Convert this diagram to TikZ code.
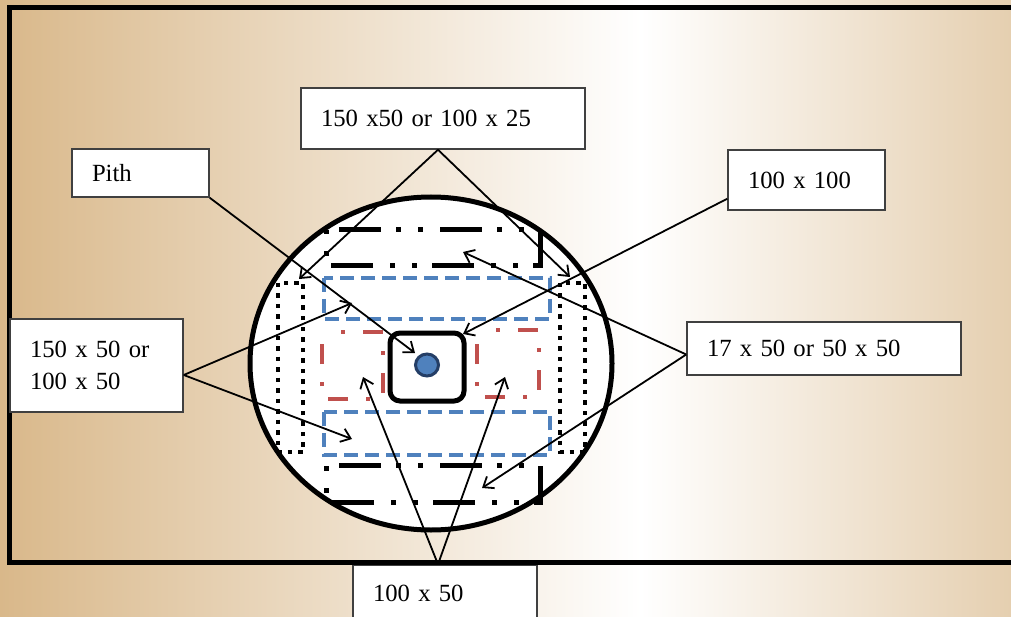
\documentclass[tikz,border=0pt]{standalone}
\usepackage{fontspec}
\setmainfont{Liberation Serif}
\usetikzlibrary{arrows.meta}
\definecolor{woodleft}{RGB}{217,184,138}
\definecolor{woodright}{RGB}{229,207,176}
\definecolor{boxgray}{RGB}{64,64,64}
\definecolor{cutblue}{RGB}{79,129,189}
\definecolor{cutred}{RGB}{192,80,77}
\definecolor{pithdark}{RGB}{36,62,102}

\begin{document}
\begin{tikzpicture}[x=1pt,y=-1pt,
  tagbox/.style={draw=boxgray,fill=white,line width=1.5pt,inner xsep=20pt,inner ysep=0pt,align=left,font=\fontsize{24.7}{31.5}\selectfont},
  pointer/.style={line width=1.8pt,-{Straight Barb[length=9pt,width=14pt]}},
  beam/.style={line width=5pt,dash pattern=on 42pt off 15pt on 5pt off 17pt on 5pt off 17pt,dash phase=88pt},
  plank/.style={cutblue,line width=4.5pt,dash pattern=on 14pt off 7pt},
  stud/.style={cutred,line width=4.5pt,dash pattern=on 20pt off 19pt on 4pt off 18pt,dash phase=20pt},
  slab/.style={line width=4.5pt,dash pattern=on 4.5pt off 6pt}]
\useasboundingbox (0,0) rectangle (1011,617);
\clip (0,0) rectangle (1011,617);
\shade[left color=woodleft,right color=white] (0,0) rectangle (641,617);
\shade[left color=white,right color=woodright] (640,0) rectangle (1011,617);

\node[tagbox,text width=144pt,minimum height=56pt] (low) at (445,593) {100 x 50};
\draw[line width=5pt] (1030,7.5) -| (9.5,562.5) -- (1030,562.5);

\draw[line width=5pt,fill=white] (431,363.5) ellipse [x radius=181pt,y radius=166.5pt];
\draw[beam] (326,230) -- (540,230) -- (540,266) -- (326,266) -- cycle;
\draw[beam] (326,465) -- (540,465) -- (540,502) -- (326,502) -- cycle;
\draw[plank] (324,278) rectangle (550,319);
\draw[plank] (324,412) rectangle (550,455);
\draw[stud] (322,332) -- (383,332) -- (383,399) -- (322,399) -- cycle;
\draw[stud] (477,330) -- (539,330) -- (539,397) -- (477,397) -- cycle;
\draw[slab] (278,283) rectangle (303,452);
\draw[slab] (560,283) rectangle (585,452);
\draw[line width=5pt,rounded corners=10pt] (390,333) rectangle (464,401);
\draw[pithdark,fill=cutblue,line width=3pt] (427,365) ellipse [x radius=11.5pt,y radius=11pt];

\node[tagbox,text width=244pt,minimum height=61pt] (wide) at (443,118.5) {150 x50 or 100 x 25};
\node[tagbox,text width=97pt,minimum height=48pt] (pith) at (140.5,173) {Pith};
\node[tagbox,text width=117pt,minimum height=60pt] (square) at (806.5,180) {100 x 100};
\node[tagbox,text width=133pt,minimum height=93pt] (side) at (96.5,365.5) {150 x 50 or\\100 x 50};
\node[tagbox,text width=234pt,minimum height=53pt] (thin) at (824,348.5) {17 x 50 or 50 x 50};

\coordinate (wideL) at (299,279);
\coordinate (wideR) at (570,277);
\coordinate (pithtip) at (415,353);
\coordinate (squaretip) at (463,334);
\coordinate (thinA) at (463,252);
\coordinate (thinB) at (482,488);
\coordinate (sideA) at (352,303);
\coordinate (sideB) at (352,439);
\coordinate (lowA) at (363,377);
\coordinate (lowB) at (505,377);

\draw[pointer] ([xshift=-5pt]wide.south) -- (wideL);
\draw[pointer] ([xshift=-5pt]wide.south) -- (wideR);
\draw[pointer] (pith.south east) -- (pithtip);
\draw[pointer] ([yshift=12pt]square.south west) -- (squaretip);
\draw[pointer] ([yshift=-6pt]thin.west) -- (thinA);
\draw[pointer] ([yshift=-6pt]thin.west) -- (thinB);
\draw[pointer] ([yshift=-9.5pt]side.east) -- (sideA);
\draw[pointer] ([yshift=-9.5pt]side.east) -- (sideB);
\draw[pointer] ([xshift=-7pt]low.north) -- (lowA);
\draw[pointer] ([xshift=-7pt]low.north) -- (lowB);
\end{tikzpicture}
\end{document}
